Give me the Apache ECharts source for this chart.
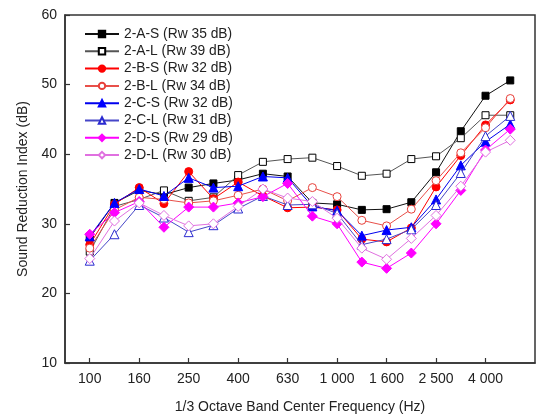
<!DOCTYPE html>
<html>
<head>
<meta charset="utf-8">
<script src="https://cdn.jsdelivr.net/npm/echarts@6/dist/echarts.min.js"></script>
<style>
html,body{margin:0;padding:0;background:#fff;}
#c{width:539px;height:414px;}
</style>
</head>
<body>
<div id="c"></div>
<script>
// 1/3 octave band centre frequencies (Hz)
var bands = [100,125,160,200,250,315,400,500,630,800,1000,1250,1600,2000,2500,3150,4000,5000];
// tick labels shown (every other band)
var tickIdx = [0,2,4,6,8,10,12,14,16];
var tickLabels = ['100','160','250','400','630','1 000','1 600','2 500','4 000'];
var yTicks = [10,20,30,40,50,60];

var names = ['2-A-S (Rw 35 dB)','2-A-L (Rw 39 dB)','2-B-S (Rw 32 dB)','2-B-L (Rw 34 dB)',
             '2-C-S (Rw 32 dB)','2-C-L (Rw 31 dB)','2-D-S (Rw 29 dB)','2-D-L (Rw 30 dB)'];

var A_S = [28.0,33.0,34.8,34.2,35.2,35.8,36.3,37.2,36.8,33.0,32.8,32.0,32.1,33.1,37.4,43.3,48.4,50.6];
var A_L = [26.0,32.5,33.5,34.8,33.3,33.8,37.0,38.9,39.3,39.5,38.3,36.9,37.2,39.3,39.7,42.3,45.6,45.6];
var B_S = [27.0,32.8,35.2,32.9,37.5,33.6,36.0,34.0,32.3,32.4,32.0,27.8,27.4,29.4,35.3,39.8,44.2,47.8];
var B_L = [26.5,32.0,33.8,33.5,33.0,33.3,34.1,35.0,33.3,35.2,33.9,30.5,29.7,32.1,36.2,40.2,43.8,48.0];
var C_S = [28.2,33.0,35.0,34.0,36.6,35.2,35.4,36.8,36.6,32.5,31.9,28.3,29.1,29.5,33.5,38.4,41.8,44.3];
var C_L = [24.7,28.5,32.7,30.9,28.8,29.8,32.2,34.0,32.7,32.8,31.5,27.0,27.8,29.2,32.7,37.3,42.6,45.5];
var D_S = [28.5,31.6,33.2,29.5,32.4,32.4,33.0,33.9,35.8,31.1,30.0,24.5,23.6,25.8,30.0,34.8,40.6,43.6];
var D_L = [25.0,30.4,33.0,31.2,29.7,30.0,32.5,35.0,33.7,33.2,30.8,26.5,24.9,27.9,31.2,35.4,40.3,42.0];

var seriesValues = [A_S,A_L,B_S,B_L,C_S,C_L,D_S,D_L];
var styles = [
  {symbol:'rect', size:7, color:'#000000', line:'#111111', fill:'#000000'},
  {symbol:'rect', size:7, color:'#000000', line:'#555555', fill:'#ffffff'},
  {symbol:'circle', size:8, color:'#ff0000', line:'#ff0000', fill:'#ff0000'},
  {symbol:'circle', size:8, color:'#e8403a', line:'#e8504a', fill:'#ffffff'},
  {symbol:'triangle', size:9, color:'#0000ff', line:'#0000ee', fill:'#0000ff'},
  {symbol:'triangle', size:9, color:'#2a2ad0', line:'#4646c8', fill:'#ffffff'},
  {symbol:'diamond', size:10, color:'#ff00ff', line:'#ff00ff', fill:'#ff00ff'},
  {symbol:'diamond', size:10, color:'#e070e0', line:'#e070e0', fill:'#ffffff'}
];

var FONT = 'Liberation Sans, Arial, sans-serif';
var series = seriesValues.map(function(vals, k){
  var s = styles[k];
  return {
    name: names[k],
    type: 'line',
    data: vals.map(function(v,i){ return [i, v]; }),
    symbol: s.symbol,
    symbolSize: s.size,
    showAllSymbol: true,
    animation: false,
    lineStyle: {color: s.line, width: 1},
    itemStyle: {color: s.fill, borderColor: s.color, borderWidth: 1},
    z: 2 + k
  };
});

var chart = echarts.init(document.getElementById('c'), null, {renderer:'canvas'});
chart.setOption({
  animation: false,
  backgroundColor: '#ffffff',
  grid: {left: 65, right: 4, top: 15, bottom: 51, containLabel: false, outerBoundsMode: 'none',
         show: true, borderColor: '#333', borderWidth: 1.5, backgroundColor: 'transparent'},
  legend: {
    orient: 'vertical', left: 79, top: 22,
    itemWidth: 34, itemHeight: 8, itemGap: 3.3,
    textStyle: {fontFamily: FONT, fontSize: 13.8, lineHeight: 14, color: '#222'},
    data: names
  },
  xAxis: {
    type: 'value', min: -1, max: 18,
    name: '1/3 Octave Band Center Frequency (Hz)',
    nameLocation: 'middle', nameGap: 37,
    nameTextStyle: {fontFamily: FONT, fontSize: 14, color: '#222'},
    axisLine: {show: true, onZero: false, lineStyle: {color: '#333', width: 1.5}},
    axisTick: {show: true, inside: true, length: 5, customValues: tickIdx, lineStyle: {color: '#333', width: 1.2}},
    axisLabel: {customValues: tickIdx, fontFamily: FONT, fontSize: 14, color: '#222', margin: 9,
      formatter: function(v){ var j = tickIdx.indexOf(Math.round(v)); return j >= 0 ? tickLabels[j] : ''; }},
    splitLine: {show: false}
  },
  yAxis: {
    type: 'value', min: 10, max: 60, interval: 10,
    name: 'Sound Reduction Index (dB)',
    nameLocation: 'middle', nameGap: 35,
    nameTextStyle: {fontFamily: FONT, fontSize: 14, color: '#222'},
    axisLine: {show: true, onZero: false, lineStyle: {color: '#333', width: 1.5}},
    axisTick: {show: true, inside: true, length: 5, lineStyle: {color: '#333', width: 1.2}},
    axisLabel: {fontFamily: FONT, fontSize: 14, color: '#222', margin: 8},
    splitLine: {show: false}
  },
  series: series
});
</script>
</body>
</html>
